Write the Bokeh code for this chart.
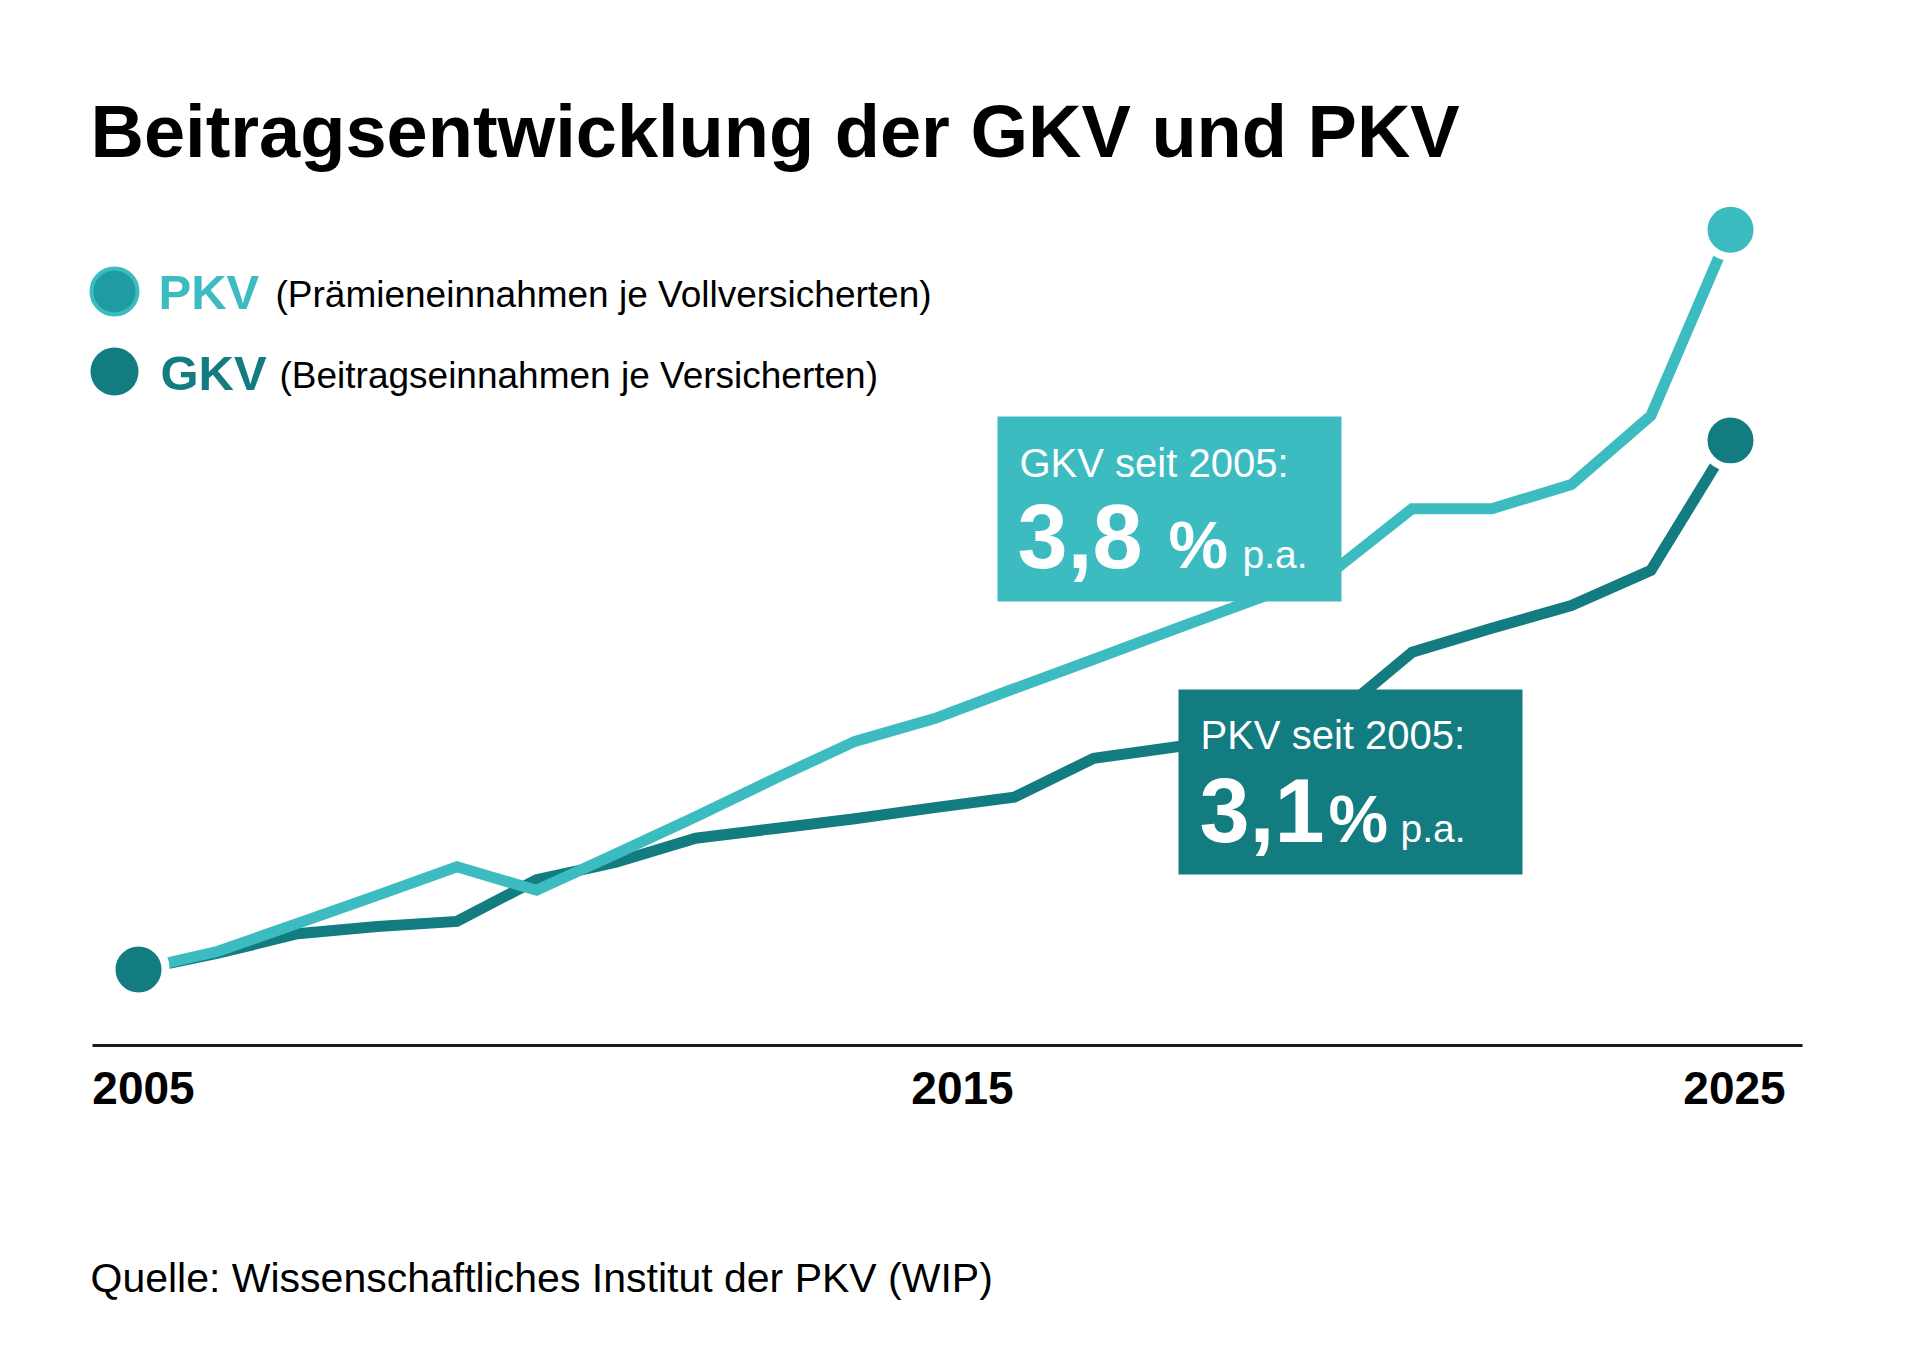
from bokeh.plotting import figure
from bokeh.models import Range1d, Label, BoxAnnotation, ColumnDataSource
from bokeh.embed import file_html
from bokeh.resources import INLINE

# ---------------- data (index, 2005 = 100) ----------------
years = list(range(2005, 2026))
pkv_index = [100.0, 102.8, 107.1, 111.4, 115.8, 112.2, 117.8, 123.5, 129.4, 135.1,
             138.6, 143.2, 147.7, 152.3, 156.8, 161.2, 170.9, 170.9, 174.6, 185.2, 213.8]
gkv_index = [100.0, 102.5, 105.5, 106.6, 107.4, 113.8, 116.5, 120.2, 121.7, 123.2,
             124.9, 126.5, 132.5, 134.2, 136.0, 138.6, 148.8, 152.5, 156.0, 161.4, 181.4]
tick_years = [2005, 2015, 2025]
tick_labels = ["2005", "2015", "2025"]

# ---------------- style ----------------
LIGHT = "#3CBBC1"
DARK = "#127C80"
FONT = "Liberation Sans"
BASELINE_FIX = 0.34          # renderer places alphabetic baseline this many em too low

# ---------------- layout (reference pixel geometry; canvas == whole frame) ----------------
W, H = 1910, 1340
X_FIRST_PX, X_LAST_PX = 138, 1730            # px of first / last year
PX_PER_YEAR = (X_LAST_PX - X_FIRST_PX) / (years[-1] - years[0])
Y_BASE_PX = 969                              # px of index 100
PX_PER_UNIT = 6.5

x_start = years[0] - X_FIRST_PX / PX_PER_YEAR
x_end = x_start + W / PX_PER_YEAR
y_end = 100 + Y_BASE_PX / PX_PER_UNIT
y_start = y_end - H / PX_PER_UNIT


def dx(px):
    return x_start + px / PX_PER_YEAR


def dy(py):
    return y_end - py / PX_PER_UNIT


p = figure(width=W, height=H,
           x_range=Range1d(x_start, x_end), y_range=Range1d(y_start, y_end),
           x_axis_location=None, y_axis_location=None,
           toolbar_location=None, output_backend="svg",
           min_border=0, min_border_left=0, min_border_right=0,
           min_border_top=0, min_border_bottom=0,
           background_fill_color="white", border_fill_color="white",
           outline_line_color=None)
p.xgrid.visible = False
p.ygrid.visible = False

src = ColumnDataSource(dict(year=years, pkv=pkv_index, gkv=gkv_index))
p.line("year", "gkv", source=src, line_width=11, line_color=DARK, line_join="miter")
p.line("year", "pkv", source=src, line_width=11, line_color=LIGHT, line_join="miter")

ends_pkv = ColumnDataSource(dict(x=[years[0], years[-1]], y=[pkv_index[0], pkv_index[-1]]))
ends_gkv = ColumnDataSource(dict(x=[years[0], years[-1]], y=[gkv_index[0], gkv_index[-1]]))
p.scatter("x", "y", source=ends_pkv, size=54, fill_color=LIGHT, line_color="white", line_width=8)
p.scatter("x", "y", source=ends_gkv, size=54, fill_color=DARK, line_color="white", line_width=8)

# legend markers
p.scatter(x=[dx(114)], y=[dy(291)], size=46, fill_color="#1F9CA2", line_color=LIGHT, line_width=4)
p.scatter(x=[dx(114)], y=[dy(371)], size=48, fill_color=DARK, line_color=None)

# x axis baseline
p.add_layout(BoxAnnotation(left=dx(92), right=dx(1802), top=dy(1043.5), bottom=dy(1046.5),
                           fill_color="#1a1a1a", fill_alpha=1, line_color=None))

# callout boxes
p.add_layout(BoxAnnotation(left=dx(997), right=dx(1341), top=dy(416), bottom=dy(601),
                           fill_color=LIGHT, fill_alpha=1, line_color=None))
p.add_layout(BoxAnnotation(left=dx(1178), right=dx(1522), top=dy(689), bottom=dy(874),
                           fill_color=DARK, fill_alpha=1, line_color=None))


def label(text, x, py, size, color, bold=False, align="left", x_offset=0):
    p.add_layout(Label(x=x, y=dy(py - BASELINE_FIX * size), x_offset=x_offset,
                       text=text, text_font=FONT,
                       text_font_size=f"{size}px",
                       text_font_style="bold" if bold else "normal",
                       text_color=color, text_align=align, text_baseline="alphabetic"))


# tick labels (at their years, nudged as in the original layout)
tick_nudge = [5, 28, 4]
for yr, txt, nudge in zip(tick_years, tick_labels, tick_nudge):
    label(txt, yr, 1103, 46, "#000000", bold=True, align="center", x_offset=nudge)

label("Beitragsentwicklung der GKV und PKV", dx(90), 156, 74, "#000000", bold=True)

label("PKV", dx(158), 308, 49, LIGHT, bold=True)
label("(Prämieneinnahmen je Vollversicherten)", dx(275), 307, 37, "#000000")
label("GKV", dx(160), 389, 49, DARK, bold=True)
label("(Beitragseinnahmen je Versicherten)", dx(279), 388, 37, "#000000")

label("GKV seit 2005:", dx(1019), 476, 40, "white")
label("3,8", dx(1017), 567, 90, "white", bold=True)
label("%", dx(1168), 567, 67, "white", bold=True)
label("p.a.", dx(1242), 567, 39, "white")

label("PKV seit 2005:", dx(1200), 748, 40, "white")
label("3,1", dx(1199), 841, 90, "white", bold=True)
label("%", dx(1328), 841, 67, "white", bold=True)
label("p.a.", dx(1400), 841, 39, "white")

label("Quelle: Wissenschaftliches Institut der PKV (WIP)", dx(90), 1291, 41, "#000000")

open("out.html", "w").write(file_html(p, INLINE))
